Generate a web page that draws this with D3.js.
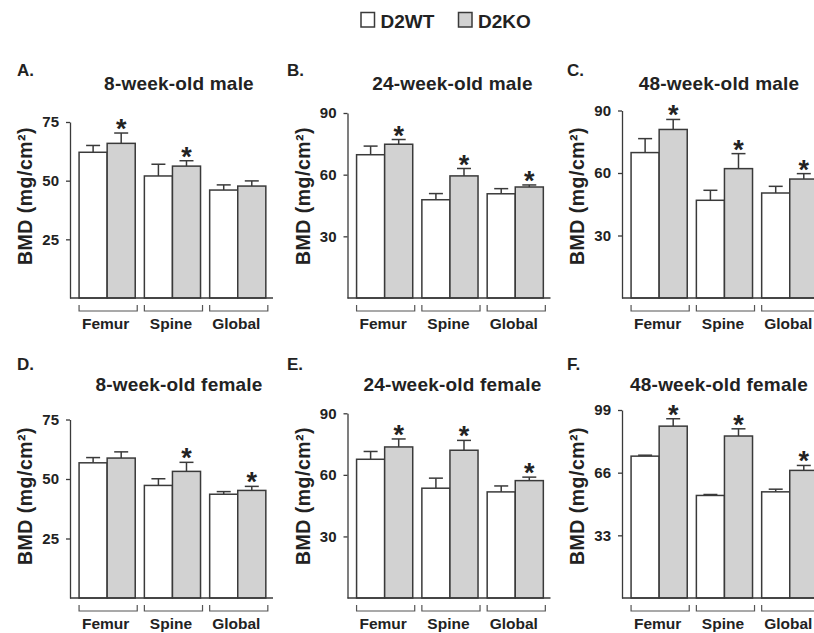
<!DOCTYPE html>
<html>
<head>
<meta charset="utf-8">
<script src="https://cdn.jsdelivr.net/npm/d3@7"></script>
<style>
  body { margin: 0; background: #fff; }
  text { font-family: Arial, "Liberation Sans", Helvetica, sans-serif; font-weight: bold; fill: #222; }
</style>
</head>
<body>
<svg id="chart" width="814" height="633"></svg>
<script>
// data (BMD, mg/cm2, mean and upper SEM)
const sites = ['Femur', 'Spine', 'Global'];
const groups = ['D2WT', 'D2KO'];
const panelLetters = ['A.', 'B.', 'C.', 'D.', 'E.', 'F.'];
const panelTitles = ['8-week-old male', '24-week-old male', '48-week-old male',
  '8-week-old female', '24-week-old female', '48-week-old female'];
const yMax = [75, 90, 90, 75, 90, 99];
const yTicks = [[25, 50, 75], [30, 60, 90], [30, 60, 90], [25, 50, 75], [30, 60, 90], [33, 66, 99]];

const wtMean = [
  [62.1, 52.0, 46.0],
  [69.7, 47.8, 50.7],
  [69.8, 46.9, 50.4],
  [56.8, 47.3, 43.6],
  [67.6, 53.5, 51.7],
  [74.7, 54.0, 55.9]
];
const wtSem = [
  [2.9, 5.0, 2.2],
  [4.2, 3.0, 2.5],
  [6.7, 4.8, 3.2],
  [2.2, 2.8, 1.1],
  [3.8, 4.9, 2.9],
  [0.5, 0.5, 1.4]
];
const koMean = [
  [65.9, 56.2, 47.7],
  [74.8, 59.4, 54.0],
  [80.9, 62.1, 57.1],
  [58.8, 53.2, 45.2],
  [73.6, 72.0, 57.2],
  [90.5, 85.3, 67.2]
];
const koSem = [
  [4.4, 2.3, 2.2],
  [2.3, 3.6, 1.0],
  [4.8, 7.2, 2.6],
  [2.6, 3.8, 1.7],
  [3.9, 4.8, 1.7],
  [3.9, 3.8, 2.6]
];
const koSig = [
  [true, true, false],
  [true, true, true],
  [true, true, true],
  [false, true, true],
  [true, true, true],
  [true, true, true]
];

// layout
const colX = [70, 347.5, 622];
const rowBase = [298, 598];
const plotTop = [122, 113, 110.5, 419.5, 413.3, 410];
const titleDx = [109, 105, 97];
const letterX = [17, 287, 567];
const letterY = [76, 370];
const titleY = [90, 391];

const fillFor = { D2WT: '#ffffff', D2KO: '#d2d2d2' };
const ink = '#3a3a3a';

const svg = d3.select('#chart');
svg.append('rect').attr('width', 814).attr('height', 633).attr('fill', '#fff');

panelTitles.forEach((title, i) => {
  const col = i % 3, row = Math.floor(i / 3);
  const x0 = colX[col], base = rowBase[row];

  const y = d3.scaleLinear().domain([0, yMax[i]]).range([base, plotTop[i]]);
  const x = d3.scaleBand().domain(sites).range([x0 + 4.5, x0 + 200.4])
    .paddingInner(0.14).paddingOuter(0.07);
  const xs = d3.scaleBand().domain(groups).range([0, x.bandwidth()]);

  const g = svg.append('g');

  const bars = sites.flatMap((s, j) => [
    { site: s, grp: 'D2WT', v: wtMean[i][j], e: wtSem[i][j], sig: false },
    { site: s, grp: 'D2KO', v: koMean[i][j], e: koSem[i][j], sig: koSig[i][j] }
  ]);

  // error bars (upper only)
  const eb = g.selectAll('.err').data(bars).enter().append('g').attr('class', 'err')
    .attr('stroke', ink).attr('stroke-width', 1.5);
  eb.append('line')
    .attr('x1', d => x(d.site) + xs(d.grp) + xs.bandwidth() / 2)
    .attr('x2', d => x(d.site) + xs(d.grp) + xs.bandwidth() / 2)
    .attr('y1', d => y(d.v)).attr('y2', d => y(d.v + d.e));
  eb.append('line')
    .attr('x1', d => x(d.site) + xs(d.grp) + xs.bandwidth() / 2 - 7)
    .attr('x2', d => x(d.site) + xs(d.grp) + xs.bandwidth() / 2 + 7)
    .attr('y1', d => y(d.v + d.e)).attr('y2', d => y(d.v + d.e));

  g.selectAll('.bar').data(bars).enter().append('rect').attr('class', 'bar')
    .attr('x', d => x(d.site) + xs(d.grp))
    .attr('y', d => y(d.v))
    .attr('width', xs.bandwidth())
    .attr('height', d => y(0) - y(d.v))
    .attr('fill', d => fillFor[d.grp])
    .attr('stroke', ink).attr('stroke-width', 1.5);

  // significance stars
  g.selectAll('.star').data(bars.filter(d => d.sig)).enter().append('text')
    .attr('class', 'star')
    .attr('x', d => x(d.site) + xs(d.grp) + xs.bandwidth() / 2)
    .attr('y', d => y(d.v + d.e) + 5)
    .attr('text-anchor', 'middle')
    .style('font-size', '27px')
    .text('*');

  // y axis
  const ax = g.append('g').attr('transform', `translate(${x0},0)`)
    .call(d3.axisLeft(y).tickValues(yTicks[i]).tickSize(4).tickSizeOuter(0).tickPadding(7));
  ax.select('.domain').attr('stroke', ink).attr('stroke-width', 1.3);
  ax.selectAll('.tick line').attr('stroke', ink).attr('stroke-width', 1.3);
  ax.selectAll('.tick text').attr('fill', '#222')
    .style('font-size', '15px').style('font-family', 'Arial, "Liberation Sans", sans-serif')
    .style('font-weight', 'bold');

  // x baseline
  g.append('line').attr('x1', x0).attr('x2', x0 + 203)
    .attr('y1', base).attr('y2', base)
    .attr('stroke', ink).attr('stroke-width', 1.3);

  // brackets and category labels
  g.selectAll('.bracket').data(sites).enter().append('path')
    .attr('class', 'bracket')
    .attr('d', s => `M${x(s)},${base + 7}V${base + 13}H${x(s) + x.bandwidth() + 2}V${base + 7}`)
    .attr('fill', 'none').attr('stroke', '#555').attr('stroke-width', 1.2);

  g.selectAll('.cat').data(sites).enter().append('text')
    .attr('x', s => x(s) + x.bandwidth() / 2 - 1.5)
    .attr('y', base + 31)
    .attr('text-anchor', 'middle')
    .style('font-size', '15.5px')
    .text(s => s);

  // y label
  g.append('text')
    .attr('transform', `translate(${x0 - 45},${base - 102}) rotate(-90)`)
    .attr('text-anchor', 'middle')
    .attr('dominant-baseline', 'central')
    .style('font-size', '19.5px')
    .style('letter-spacing', '0.5px')
    .text('BMD (mg/cm²)');

  // title and panel letter
  g.append('text')
    .attr('x', x0 + titleDx[col]).attr('y', titleY[row])
    .attr('text-anchor', 'middle')
    .style('font-size', '19px')
    .style('letter-spacing', '0.2px')
    .text(title);

  g.append('text')
    .attr('x', letterX[col]).attr('y', letterY[row])
    .style('font-size', '17px')
    .text(panelLetters[i]);
});

// legend
const legend = svg.append('g');
const legendX = [361, 458.5];
groups.forEach((grp, k) => {
  legend.append('rect')
    .attr('x', legendX[k]).attr('y', 12.5)
    .attr('width', 13.5).attr('height', 14.5)
    .attr('fill', fillFor[grp]).attr('stroke', ink).attr('stroke-width', 1.5);
  legend.append('text')
    .attr('x', legendX[k] + 19.5).attr('y', 27.5)
    .style('font-size', '19px')
    .text(grp);
});
</script>
</body>
</html>
